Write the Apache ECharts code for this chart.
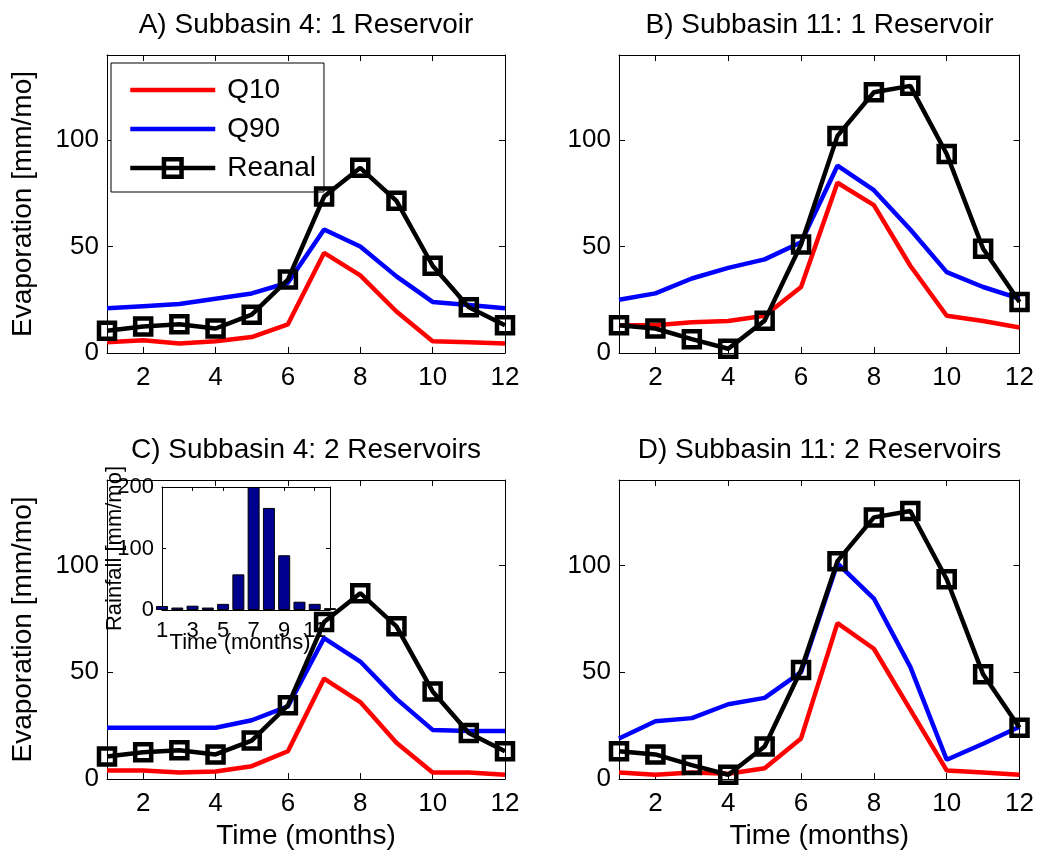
<!DOCTYPE html>
<html><head><meta charset="utf-8">
<script src="https://cdn.jsdelivr.net/npm/echarts@6/dist/echarts.min.js"></script>
<style>html,body{margin:0;padding:0;background:#fff}#c{width:1037px;height:852px}</style>
</head><body><div id="c"></div>
<script>
// ---- data ----
const months = [1, 2, 3, 4, 5, 6, 7, 8, 9, 10, 11, 12];
const q10A = [5, 6, 4.5, 5.5, 7.5, 13.5, 47, 36.5, 19.5, 5.5, 5, 4.5];
const q90A = [21, 22, 23, 25.5, 28, 33, 58, 50, 36, 24, 22.5, 21];
const q10B = [13, 13, 14.5, 15, 17.5, 31, 80, 69.5, 41, 17.5, 15, 12];
const q90B = [25, 28, 35, 40, 44, 52, 88, 76.5, 58, 38, 31, 25.5];
const q10C = [4, 4, 3, 3.5, 6, 13, 47, 36, 17, 3, 3, 2];
const q90C = [24, 24, 24, 24, 27.5, 34, 66, 55, 37.5, 23, 22.5, 22.5];
const q10D = [3, 2, 3, 2.5, 5, 19, 73, 61, 32.5, 4, 3, 2];
const q90D = [19, 27, 28.5, 35, 38, 50, 101, 84.5, 52.5, 9, 16.5, 24.5];
const reanal4 = [10.5, 12.5, 13.5, 11.5, 18, 34.5, 73.5, 87, 71.5, 41, 21.5, 13];
const reanal11 = [13, 11.5, 6.5, 2, 15.2, 51, 102, 122.5, 125.5, 93.5, 49, 24];
const rainfall = [6.5, 4, 7, 4, 10, 58, 200, 166, 89, 13.5, 10, 3];
const mainXTicks = [2, 4, 6, 8, 10, 12];
const mainYTicks = [0, 50, 100];
const insetXTicks = [1, 3, 5, 7, 9, 11];
const insetYTicks = [0, 100, 200];
const titles = ['A) Subbasin 4: 1 Reservoir', 'B) Subbasin 11: 1 Reservoir',
                'C) Subbasin 4: 2 Reservoirs', 'D) Subbasin 11: 2 Reservoirs'];
const seriesNames = ['Q10', 'Q90', 'Reanal'];
const yLabel = 'Evaporation [mm/mo]';
const xLabel = 'Time (months)';
const insetYLabel = 'Rainfall [mm/mo]';

// ---- layout ----
const FONT = 'Liberation Sans, Arial, Helvetica, sans-serif';
const grids = [
  {left: 107, top: 55, width: 398, height: 298},
  {left: 619, top: 55, width: 401, height: 298},
  {left: 107, top: 480, width: 398, height: 299},
  {left: 619, top: 480, width: 401, height: 299},
  {left: 162, top: 487, width: 168, height: 123}
];
const panels = [
  {q10: q10A, q90: q90A, re: reanal4, ylab: true, xlab: false},
  {q10: q10B, q90: q90B, re: reanal11, ylab: false, xlab: false},
  {q10: q10C, q90: q90C, re: reanal4, ylab: true, xlab: true},
  {q10: q10D, q90: q90D, re: reanal11, ylab: false, xlab: true}
];
const pair = arr => months.map((m, i) => [m, arr[i]]);

const axLine = {show: true, onZero: false, lineStyle: {color: '#000', width: 1}};
const xAxes = [], yAxes = [], series = [], graphics = [];

panels.forEach((p, i) => {
  xAxes.push({
    type: 'value', gridIndex: i, min: 1, max: 12, position: 'bottom',
    splitLine: {show: false}, axisLine: axLine,
    axisTick: {show: true, inside: true, length: 6, customValues: mainXTicks, lineStyle: {color: '#000'}},
    axisLabel: {show: true, customValues: mainXTicks, margin: 12, color: '#000', fontSize: 26, fontFamily: FONT},
    name: p.xlab ? xLabel : '', nameLocation: 'middle', nameGap: 43, nameMoveOverlap: false,
    nameTextStyle: {color: '#000', fontSize: 28, fontFamily: FONT}
  });
  xAxes.push({
    type: 'value', gridIndex: i, min: 1, max: 12, position: 'top',
    splitLine: {show: false}, axisLine: axLine,
    axisTick: {show: true, inside: true, length: 6, customValues: mainXTicks, lineStyle: {color: '#000'}},
    axisLabel: {show: false}
  });
  yAxes.push({
    type: 'value', gridIndex: i, min: 0, max: 140, position: 'left',
    splitLine: {show: false}, axisLine: axLine,
    axisTick: {show: true, inside: true, length: 6, customValues: mainYTicks, lineStyle: {color: '#000'}},
    axisLabel: {show: true, customValues: mainYTicks, margin: 8, color: '#000', fontSize: 26, fontFamily: FONT},
    name: p.ylab ? yLabel : '', nameLocation: 'middle', nameGap: 70, nameRotate: 90, nameMoveOverlap: false,
    nameTextStyle: {color: '#000', fontSize: 28, fontFamily: FONT}
  });
  yAxes.push({
    type: 'value', gridIndex: i, min: 0, max: 140, position: 'right',
    splitLine: {show: false}, axisLine: axLine,
    axisTick: {show: true, inside: true, length: 6, customValues: mainYTicks, lineStyle: {color: '#000'}},
    axisLabel: {show: false}
  });
  const xi = 2 * i, yi = 2 * i;
  series.push({
    name: seriesNames[0], type: 'line', xAxisIndex: xi, yAxisIndex: yi, data: pair(p.q10),
    symbol: 'none', lineStyle: {color: '#ff0000', width: 4.5}, itemStyle: {color: '#ff0000'}, z: 3, silent: true
  });
  series.push({
    name: seriesNames[1], type: 'line', xAxisIndex: xi, yAxisIndex: yi, data: pair(p.q90),
    symbol: 'none', lineStyle: {color: '#0000ff', width: 4.5}, itemStyle: {color: '#0000ff'}, z: 3, silent: true
  });
  series.push({
    name: seriesNames[2], type: 'line', xAxisIndex: xi, yAxisIndex: yi, data: pair(p.re),
    symbol: 'rect', symbolSize: 16, showAllSymbol: true, clip: false,
    lineStyle: {color: '#000', width: 4.5},
    itemStyle: {color: 'rgba(0,0,0,0)', borderColor: '#000', borderWidth: 4.5}, z: 4, silent: true
  });
  const g = grids[i];
  graphics.push({
    type: 'text', x: g.left + g.width / 2, y: g.top - 30,
    style: {text: titles[i], fill: '#000', font: '28px ' + FONT, textAlign: 'center', textVerticalAlign: 'middle'}
  });
});

// inset (rainfall bars)
xAxes.push({
  type: 'value', gridIndex: 4, min: 1, max: 12, position: 'bottom',
  splitLine: {show: false}, axisLine: axLine,
  axisTick: {show: true, inside: true, length: 4, customValues: insetXTicks, lineStyle: {color: '#000'}},
  axisLabel: {show: true, customValues: insetXTicks, margin: 10, color: '#000', fontSize: 22, fontFamily: FONT},
  name: xLabel, nameLocation: 'middle', nameGap: 22, nameMoveOverlap: false,
  nameTextStyle: {color: '#000', fontSize: 22, fontFamily: FONT, padding: [0, 12, 0, 0]}
});
xAxes.push({
  type: 'value', gridIndex: 4, min: 1, max: 12, position: 'top',
  splitLine: {show: false}, axisLine: axLine,
  axisTick: {show: true, inside: true, length: 4, customValues: insetXTicks, lineStyle: {color: '#000'}},
  axisLabel: {show: false}
});
yAxes.push({
  type: 'value', gridIndex: 4, min: 0, max: 200, position: 'left',
  splitLine: {show: false}, axisLine: axLine,
  axisTick: {show: true, inside: true, length: 4, customValues: insetYTicks, lineStyle: {color: '#000'}},
  axisLabel: {show: true, customValues: insetYTicks, margin: 8, color: '#000', fontSize: 22, fontFamily: FONT},
  name: insetYLabel, nameLocation: 'middle', nameGap: 36, nameRotate: 90, nameMoveOverlap: false,
  nameTextStyle: {color: '#000', fontSize: 22, fontFamily: FONT}
});
yAxes.push({
  type: 'value', gridIndex: 4, min: 0, max: 200, position: 'right',
  splitLine: {show: false}, axisLine: axLine,
  axisTick: {show: true, inside: true, length: 4, customValues: insetYTicks, lineStyle: {color: '#000'}},
  axisLabel: {show: false}
});
series.push({
  name: 'Rainfall', type: 'bar', xAxisIndex: 8, yAxisIndex: 8, data: pair(rainfall),
  barWidth: 12, itemStyle: {color: '#00008f', borderColor: '#000', borderWidth: 1}, z: 1, silent: true
});

const chart = echarts.init(document.getElementById('c'), null, {renderer: 'canvas'});
chart.setOption({
  animation: false,
  backgroundColor: '#fff',
  textStyle: {fontFamily: FONT},
  grid: grids.map((g, i) => Object.assign({show: i === 4, backgroundColor: '#fff', borderColor: '#000', borderWidth: 0, containLabel: false}, g)),
  xAxis: xAxes,
  yAxis: yAxes,
  legend: {
    data: [
      {name: seriesNames[0], itemStyle: {opacity: 0}},
      {name: seriesNames[1], itemStyle: {opacity: 0}},
      {name: seriesNames[2]}
    ],
    orient: 'vertical', left: 111, top: 63,
    padding: [13, 8, 10, 17], itemWidth: 85, itemHeight: 22, itemGap: 11,
    backgroundColor: '#fff', borderColor: '#000', borderWidth: 1,
    lineStyle: {width: 4.5}, itemStyle: {borderWidth: 4.5},
    textStyle: {color: '#000', fontSize: 28, fontFamily: FONT, padding: [0, 0, 0, 7]},
    selectedMode: false
  },
  graphic: graphics,
  series: series
});
</script></body></html>
